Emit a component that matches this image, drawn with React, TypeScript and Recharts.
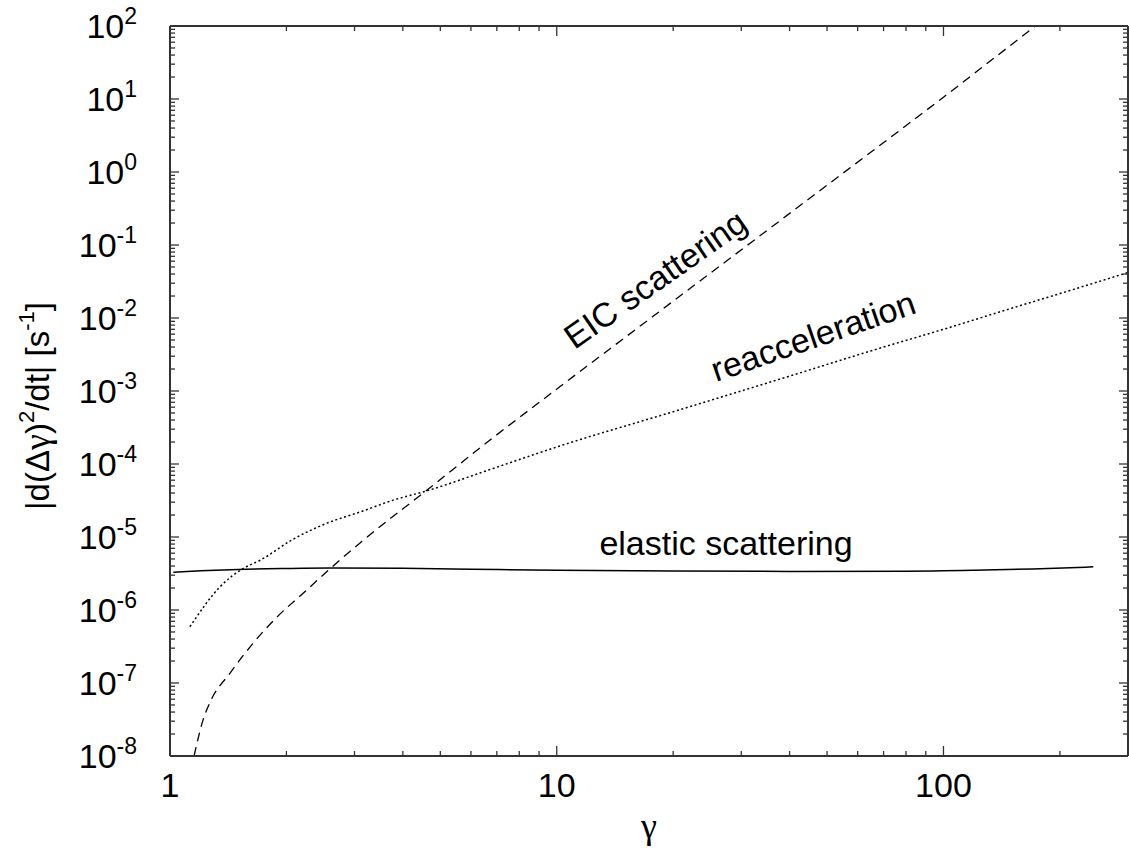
import { LineChart, Line, XAxis, YAxis, Customized } from 'recharts'

// elastic scattering (solid)
const ELASTIC_G = [1.02, 1.2, 1.5, 2, 2.6, 4, 6, 10, 20, 40, 80, 120, 170, 244]
const ELASTIC_V = [3.3e-6, 3.45e-6, 3.6e-6, 3.7e-6, 3.75e-6, 3.72e-6, 3.62e-6, 3.5e-6, 3.42e-6, 3.38e-6, 3.4e-6, 3.5e-6, 3.65e-6, 3.9e-6]

// reacceleration (dotted)
const REACC_G = [1.126, 1.347, 1.545, 1.71, 2.08, 2.55, 3.1, 3.78, 4.62, 6.85, 10.2, 20, 40, 70, 100, 150, 200, 300]
const REACC_V = [5.9e-7, 2.08e-6, 3.7e-6, 4.8e-6, 9.3e-6, 1.55e-5, 2.2e-5, 3.2e-5, 4.3e-5, 8.7e-5, 1.77e-4, 5.2e-4, 1.6e-3, 4.0e-3, 7.0e-3, 1.36e-2, 2.16e-2, 4.2e-2]

// EIC scattering (dashed)
const EIC_G = [1.154, 1.217, 1.27, 1.43, 1.64, 1.89, 2.21, 2.59, 3.1, 4.62, 6.85, 10.2, 20, 50, 100, 173, 200]
const EIC_V = [1e-8, 3.1e-8, 5.5e-8, 1.37e-7, 3.5e-7, 8e-7, 1.7e-6, 3.65e-6, 8.3e-6, 4.4e-5, 2.3e-4, 1.15e-3, 1.7e-2, 0.66, 10.6, 100, 180]

const X_DECADES = [1, 10, 100]
const Y_DECADES = [1e-8, 1e-7, 1e-6, 1e-5, 1e-4, 1e-3, 1e-2, 1e-1, 1, 10, 100]
const MULTIPLIERS = [1, 2, 3, 4, 5, 6, 7, 8, 9]

const X_TICKS = X_DECADES.flatMap((d) => MULTIPLIERS.map((m) => m * d)).filter((t) => t < 300)
const Y_TICKS = Y_DECADES.flatMap((d) => MULTIPLIERS.map((m) => m * d)).filter((t) => t <= 100)

const toPoints = (g: number[], v: number[]) => g.map((x, i) => ({ g: x, v: v[i] }))
const elastic = toPoints(ELASTIC_G, ELASTIC_V)
const reacc = toPoints(REACC_G, REACC_V)
const eic = toPoints(EIC_G, EIC_V)

const FONT = 'Liberation Sans, Arial, Helvetica, sans-serif'
const GREEK = 'Liberation Serif, DejaVu Serif, serif'
const AXIS = '#333'

const isMajor = (v: number) => Math.abs(Math.log10(v) - Math.round(Math.log10(v))) < 1e-6

function BottomTick({ x, y, payload }: any) {
  const major = isMajor(payload.value)
  return (
    <g>
      <line x1={x} x2={x} y1={y} y2={y - (major ? 10 : 5)} stroke={AXIS} strokeWidth={1.3} />
      {major && (
        <text x={x} y={y + 41} textAnchor="middle" fontSize={34} fontFamily={FONT} fill="#000">
          {payload.value}
        </text>
      )}
    </g>
  )
}

function TopTick({ x, y, payload }: any) {
  const major = isMajor(payload.value)
  return <line x1={x} x2={x} y1={y} y2={y + (major ? 10 : 5)} stroke={AXIS} strokeWidth={1.3} />
}

function LeftTick({ x, y, payload }: any) {
  const major = isMajor(payload.value)
  const exp = Math.round(Math.log10(payload.value))
  return (
    <g>
      <line x1={x} x2={x + (major ? 9 : 5)} y1={y} y2={y} stroke={AXIS} strokeWidth={1.3} />
      {major && (
        <text x={x - 33} y={y + 12} textAnchor="end" fontSize={34} fontFamily={FONT} fill="#000">
          10
          <tspan fontSize={23} dy={-14}>{exp}</tspan>
        </text>
      )}
    </g>
  )
}

function RightTick({ x, y, payload }: any) {
  const major = isMajor(payload.value)
  return <line x1={x} x2={x - (major ? 9 : 5)} y1={y} y2={y} stroke={AXIS} strokeWidth={1.3} />
}

function Annotations() {
  return (
    <g fontFamily={FONT} fill="#000">
      <text x={726} y={555} textAnchor="middle" fontSize={34}>elastic scattering</text>
      <text transform="translate(813,336) rotate(-19)" textAnchor="middle" dominantBaseline="central" fontSize={34}>
        reacceleration
      </text>
      <text transform="translate(655,279) rotate(-35)" textAnchor="middle" dominantBaseline="central" fontSize={34}>
        EIC scattering
      </text>
      <text x={649} y={838} textAnchor="middle" fontSize={36} fontFamily={GREEK}>γ</text>
      <text transform="translate(49,406) rotate(-90)" textAnchor="middle" fontSize={33}>
        |d(Δ
        <tspan fontFamily={GREEK} fontSize={36}>γ</tspan>
        )
        <tspan fontSize={22} dy={-15}>2</tspan>
        <tspan dy={15}>/dt| [s</tspan>
        <tspan fontSize={22} dy={-15}>-1</tspan>
        <tspan dy={15}>]</tspan>
      </text>
    </g>
  )
}

export default function App() {
  return (
    <div style={{ position: 'absolute', left: 0, top: 0, width: 1129, height: 860, background: '#fff' }}>
      <LineChart width={1129} height={860} margin={{ top: 25, right: 0, bottom: 0, left: 0 }}>
        <XAxis
          xAxisId={0}
          dataKey="g"
          type="number"
          scale="log"
          domain={[1, 300]}
          allowDataOverflow
          ticks={X_TICKS}
          interval={0}
          height={104}
          tickSize={0}
          tickMargin={0}
          tickLine={false}
          tick={<BottomTick />}
          axisLine={{ stroke: AXIS, strokeWidth: 2 }}
        />
        <XAxis
          xAxisId="top"
          orientation="top"
          dataKey="g"
          type="number"
          scale="log"
          domain={[1, 300]}
          allowDataOverflow
          ticks={X_TICKS}
          interval={0}
          height={1}
          tickSize={0}
          tickMargin={0}
          tickLine={false}
          tick={<TopTick />}
          axisLine={{ stroke: AXIS, strokeWidth: 2 }}
        />
        <YAxis
          yAxisId={0}
          type="number"
          scale="log"
          domain={[1e-8, 100]}
          allowDataOverflow
          ticks={Y_TICKS}
          interval={0}
          width={170}
          tickSize={0}
          tickMargin={0}
          tickLine={false}
          tick={<LeftTick />}
          axisLine={{ stroke: AXIS, strokeWidth: 2 }}
        />
        <YAxis
          yAxisId="right"
          orientation="right"
          type="number"
          scale="log"
          domain={[1e-8, 100]}
          allowDataOverflow
          ticks={Y_TICKS}
          interval={0}
          width={1}
          tickSize={0}
          tickMargin={0}
          tickLine={false}
          tick={<RightTick />}
          axisLine={{ stroke: AXIS, strokeWidth: 2 }}
        />
        <Line data={elastic} dataKey="v" type="monotone" stroke="#000" strokeWidth={1.5} dot={false} isAnimationActive={false} />
        <Line data={reacc} dataKey="v" type="monotone" stroke="#000" strokeWidth={1.5} strokeDasharray="2 2.6" dot={false} isAnimationActive={false} />
        <Line data={eic} dataKey="v" type="monotone" stroke="#000" strokeWidth={1.3} strokeDasharray="9 6" dot={false} isAnimationActive={false} />
        <Customized component={<Annotations />} />
      </LineChart>
    </div>
  )
}
